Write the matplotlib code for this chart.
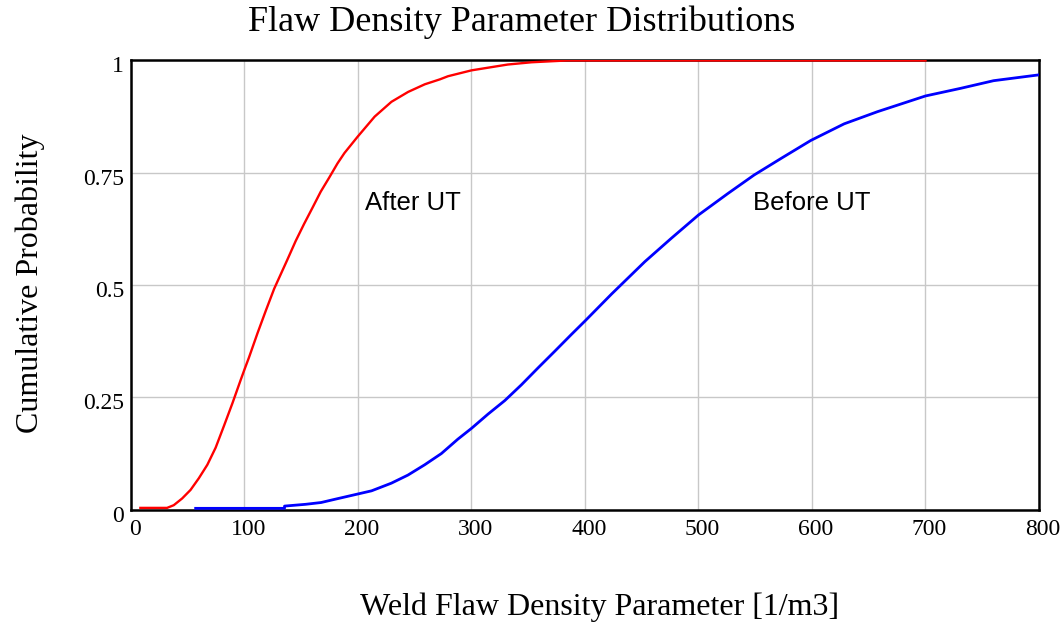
import matplotlib
matplotlib.use("Agg")
import matplotlib.pyplot as plt
from matplotlib.transforms import ScaledTranslation

after_x = [8.3, 31.8, 37.7, 45.1, 52.5, 59.8, 67.3, 74.6, 82, 89.4, 96.7, 100, 104, 111.5, 118.8,
           126.2, 137.7, 145.1, 152.5, 159.9, 167.2, 174.6, 182, 188.1, 199.6, 214.7,
           229.5, 244.2, 258.9, 272.2, 279.4, 300, 332, 353, 384, 700]
after_y = [0.004, 0.004, 0.010, 0.025, 0.044, 0.070, 0.100, 0.138, 0.187, 0.237, 0.289, 0.312,
           0.339, 0.393, 0.443, 0.492, 0.556, 0.598, 0.636, 0.672, 0.708, 0.739, 0.771,
           0.794, 0.830, 0.875, 0.908, 0.930, 0.947, 0.958, 0.965, 0.978, 0.991, 0.996, 1.0,
           1.0]

before_x = [57.0, 135.3, 135.3, 154, 167.6, 179.4, 200, 212, 229.4, 244, 258.8, 273.5, 288,
            300, 314.7, 329.4, 344, 358.8, 373.5, 388, 400, 423.4, 452.7, 476, 500, 526, 549,
            572.8, 599, 628.4, 657.7, 700, 731, 760, 800, 810]
before_y = [0.003, 0.003, 0.008, 0.012, 0.016, 0.023, 0.035, 0.042, 0.059, 0.077, 0.100, 0.125,
            0.157, 0.181, 0.213, 0.243, 0.278, 0.316, 0.353, 0.390, 0.420, 0.480, 0.552, 0.604,
            0.656, 0.704, 0.745, 0.782, 0.822, 0.859, 0.886, 0.921, 0.938, 0.955, 0.968, 0.970]

x_ticks = [0, 100, 200, 300, 400, 500, 600, 700, 800]
y_ticks = [0, 0.25, 0.5, 0.75, 1]
y_tick_labels = ["0", "0.25", "0.5", "0.75", "1"]

serif = ["Liberation Serif", "DejaVu Serif"]
sans = ["Liberation Sans", "DejaVu Sans"]

fig = plt.figure(figsize=(10.63, 6.28), dpi=100)
ax = fig.add_axes([0.1232, 0.1884, 0.8542, 0.7153])

ax.plot(after_x, after_y, color="#ff0000", linewidth=1.7, zorder=3)
ax.plot(before_x, before_y, color="#0000ff", linewidth=2.0, zorder=3)

ax.set_xlim(0, 800)
ax.set_ylim(0, 1)
ax.set_xticks(x_ticks)
ax.set_yticks(y_ticks)
ax.set_yticklabels(y_tick_labels)
ax.grid(True, color="#c8c8c8", linewidth=1.0)
ax.set_axisbelow(True)
ax.tick_params(length=0, labelsize=17)
ax.tick_params(axis="x", pad=7)
ax.tick_params(axis="y", pad=5)
for lab in ax.get_xticklabels():
    lab.set_family(serif)
    lab.set_transform(lab.get_transform() + ScaledTranslation(4 / 100, 0, fig.dpi_scale_trans))
for lab in ax.get_yticklabels():
    lab.set_family(serif)
    lab.set_transform(lab.get_transform() + ScaledTranslation(0, -4 / 100, fig.dpi_scale_trans))
for sp in ax.spines.values():
    sp.set_linewidth(1.8)
    sp.set_color("black")

ax.text(206, 0.683, "After UT", family=sans, fontsize=18.5, va="center", ha="left")
ax.text(548, 0.683, "Before UT", family=sans, fontsize=18.5, va="center", ha="left")

fig.text(0.491, 0.965, "Flaw Density Parameter Distributions", family=serif, fontsize=26,
         ha="center", va="center")
fig.text(0.5644, 0.0334, "Weld Flaw Density Parameter [1/m3]", family=serif, fontsize=23,
         ha="center", va="center")
fig.text(0.0282, 0.5486, "Cumulative Probability", family=serif, fontsize=23,
         ha="center", va="center", rotation=90)

fig.savefig("out.png", dpi=100)
